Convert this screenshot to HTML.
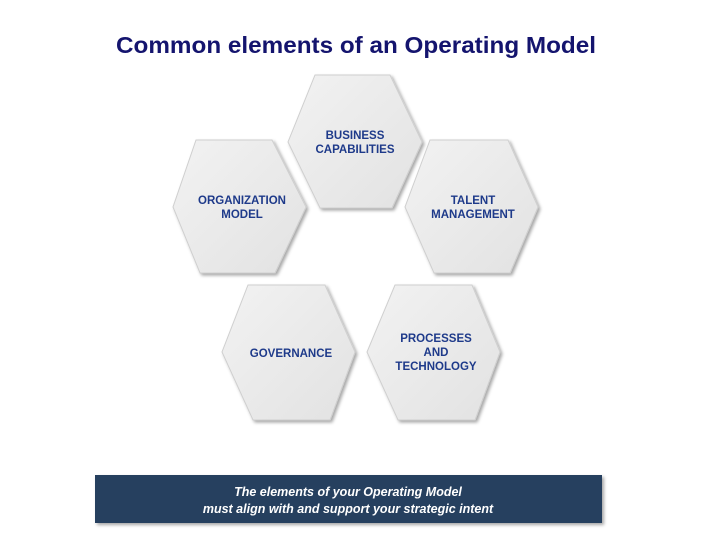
<!DOCTYPE html>
<html><head><meta charset="utf-8"><style>
html,body{margin:0;padding:0;background:#fff;}
svg{display:block;}
</style></head><body>
<svg width="720" height="540" viewBox="0 0 720 540" xmlns="http://www.w3.org/2000/svg">
<defs>
<linearGradient id="g" x1="0" y1="0" x2="1" y2="1">
<stop offset="0" stop-color="#f2f2f2"/><stop offset="1" stop-color="#e2e2e2"/>
</linearGradient>
<filter id="sh" x="-20%" y="-20%" width="140%" height="140%">
<feDropShadow dx="2" dy="2" stdDeviation="1.5" flood-color="#000" flood-opacity="0.35"/>
</filter>
</defs>
<text x="356" y="53" text-anchor="middle" font-family="Liberation Sans, sans-serif" font-weight="bold" font-size="23" fill="#14146e" textLength="480" lengthAdjust="spacingAndGlyphs">Common elements of an Operating Model</text>
<g filter="url(#sh)" fill="url(#g)" stroke="#cfcfcf" stroke-width="1">
<polygon points="315,75 390,75 422,142 392,208 320,208 288,142"/>
<polygon points="196,140 272,140 306,207 275,273 200,273 173,207"/>
<polygon points="430,140 508,140 538,207 510,273 434,273 405,207"/>
<polygon points="248,285 325,285 355,352 330,420 253,420 222,352"/>
<polygon points="395,285 472,285 500,352 475,420 398,420 367,352"/>
</g>
<g font-family="Liberation Sans, sans-serif" font-weight="bold" font-size="11.5" fill="#1e3a8a" text-anchor="middle">
<text x="355" y="139">BUSINESS</text><text x="355" y="153">CAPABILITIES</text>
<text x="242" y="204">ORGANIZATION</text><text x="242" y="218">MODEL</text>
<text x="473" y="204">TALENT</text><text x="473" y="218">MANAGEMENT</text>
<text x="291" y="357">GOVERNANCE</text>
<text x="436" y="342">PROCESSES</text><text x="436" y="356">AND</text><text x="436" y="370">TECHNOLOGY</text>
</g>
<rect x="95" y="475" width="507" height="48" fill="#273f5f" filter="url(#sh)"/>
<g font-family="Liberation Sans, sans-serif" font-weight="bold" font-style="italic" font-size="12.5" fill="#fff" text-anchor="middle">
<text x="348" y="496">The elements of your Operating Model</text>
<text x="348" y="513">must align with and support your strategic intent</text>
</g>
</svg>
</body></html>
